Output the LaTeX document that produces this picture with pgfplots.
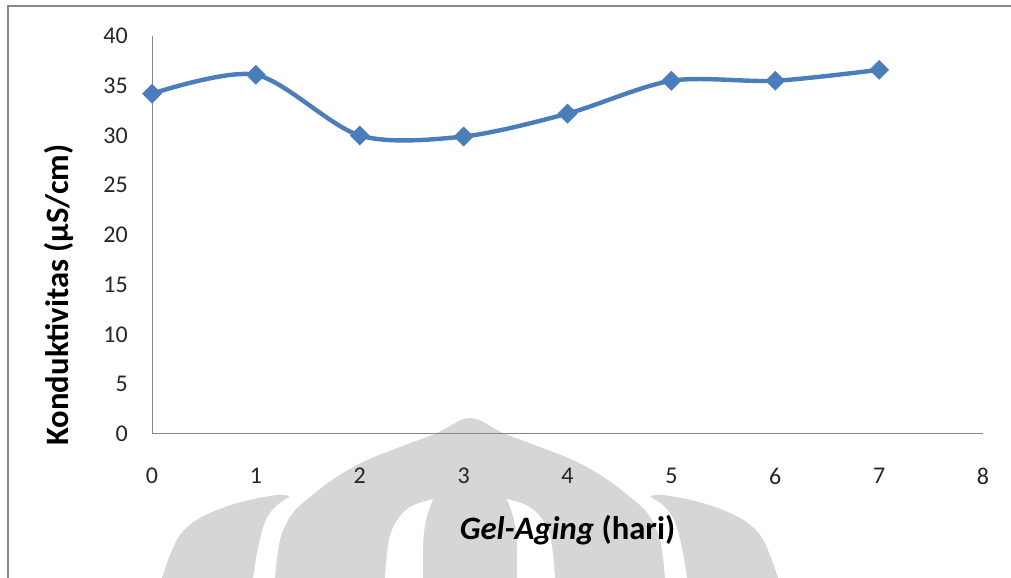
\documentclass[border=0pt]{standalone}
\usepackage{pgfplots}
\pgfplotsset{compat=1.18}
\usepackage{fontspec}
\setmainfont{Carlito}

\definecolor{seriesblue}{RGB}{74,126,187}
\definecolor{axisgray}{RGB}{134,134,134}
\definecolor{framegray}{RGB}{137,137,137}
\definecolor{markgray}{RGB}{214,214,214}
\definecolor{ticktext}{RGB}{38,38,38}

\begin{document}
\begin{tikzpicture}
\useasboundingbox (0,0) rectangle (758.25pt,433.5pt);

% background emblem and page frame, in pixel units from the top-left corner
\begin{scope}[shift={(0pt,433.5pt)}, x=0.75pt, y=-0.75pt]
  % central dome
  \fill[markgray] plot[smooth, tension=0.6] coordinates {
    (275,578) (280,540) (292,514) (310,497) (335,478) (365,461) (400,447)
    (437,433) (470,418) (503,433) (540,447) (575,461) (605,478) (630,497)
    (648,514) (660,540) (665,578)} -- cycle;
  % slots inside the dome
  \fill[white] plot[smooth, tension=0.6] coordinates {(433,499) (412,506) (398,519) (389,540) (385,578)}
     -- (423,578) -- plot[smooth, tension=0.6] coordinates {(423,578) (423,545) (426,520) (433,499)} -- cycle;
  \fill[white] plot[smooth, tension=0.6] coordinates {(507,499) (528,506) (542,519) (551,540) (555,578)}
     -- (517,578) -- plot[smooth, tension=0.6] coordinates {(517,578) (517,545) (514,520) (507,499)} -- cycle;
  % left leaf
  \fill[markgray] plot[smooth, tension=0.6] coordinates {
    (162,578) (170,555) (180,535) (195,521) (217,510) (245,501) (277,495) (289,496)}
    -- plot[smooth, tension=0.6] coordinates {(289,497) (275,507) (265,522) (258,548) (253,578)} -- cycle;
  % right leaf
  \fill[markgray] plot[smooth, tension=0.6] coordinates {
    (778,578) (770,555) (760,535) (745,521) (723,510) (695,501) (663,495) (651,496)}
    -- plot[smooth, tension=0.6] coordinates {(651,497) (665,507) (675,522) (682,548) (687,578)} -- cycle;
  % frame
  \draw[framegray, line width=1.5pt] (8.3,580) -- (8.3,5.8) -- (1013,5.8);
\end{scope}

\begin{axis}[
  at={(114pt,108pt)}, anchor=south west,
  scale only axis,
  width=623.25pt, height=298.5pt,
  xmin=0, xmax=8, ymin=0, ymax=40,
  enlargelimits=false,
  axis x line=bottom, axis y line=left,
  axis line style={-, draw=axisgray, line width=0.75pt},
  xtick={0,1,...,8}, ytick={0,5,...,40},
  major tick length=0pt,
  tick style={draw=none},
  /pgf/number format/assume math mode=true,
  ticklabel style={font=\fontsize{18}{21.6}\selectfont, text=ticktext},
  xticklabel style={anchor=north, inner sep=0pt, yshift=-25.5pt},
  yticklabel style={anchor=east, inner sep=0pt, xshift=-18pt},
  xlabel={\textbf{\textit{Gel-Aging} (hari)}},
  ylabel={\textbf{Konduktivitas (µS/cm)}},
  label style={font=\fontsize{24.5}{29}\selectfont, text=black},
  xlabel style={at={(axis description cs:0.5,-0.2663)}, anchor=base},
  ylabel style={at={(axis description cs:-0.1007,0.349)}, anchor=base},
  clip=false,
]
\addplot[seriesblue, line width=3.3pt, smooth,
  mark=square*, mark size=5pt,
  mark options={rotate=45, fill=seriesblue, draw=seriesblue, line width=0.5pt}]
  coordinates {
    (0,34.2) (1,36.1) (2,30.0) (3,29.9) (4,32.2) (5,35.5) (6,35.5) (7,36.6)
  };
\end{axis}
\end{tikzpicture}
\end{document}
